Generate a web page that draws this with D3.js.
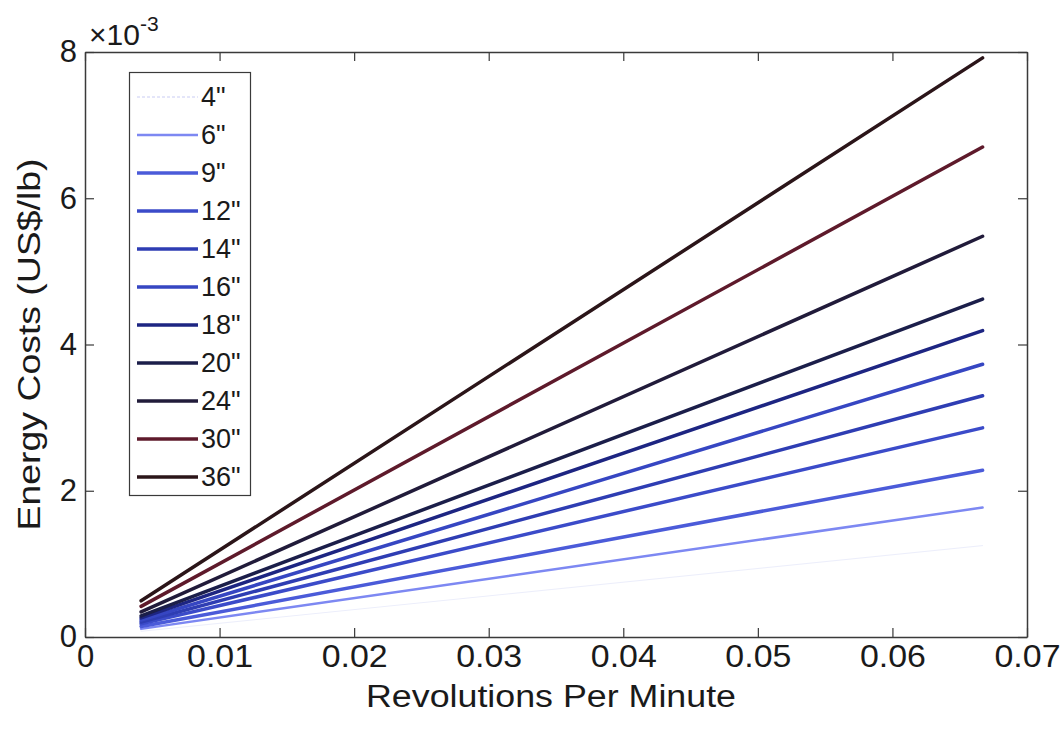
<!DOCTYPE html>
<html>
<head>
<meta charset="utf-8">
<script src="https://cdn.jsdelivr.net/npm/d3@7"></script>
<style>
  html, body { margin: 0; padding: 0; background: #fff; }
  svg { display: block; font-family: "Liberation Sans", Arial, sans-serif; }
</style>
</head>
<body>
<svg id="chart" width="1062" height="734"></svg>
<script>
// Pipe diameters and energy cost (x10^-3 US$/lb) at the lowest and highest rotation speeds
const diameters = ['4"', '6"', '9"', '12"', '14"', '16"', '18"', '20"', '24"', '30"', '36"'];
const rpmRange = [0.00417, 0.0667];
const costAtMin = [0.078, 0.111, 0.143, 0.179, 0.206, 0.233, 0.262, 0.289, 0.343, 0.419, 0.495];
const costAtMax = [1.25, 1.77, 2.28, 2.86, 3.30, 3.73, 4.19, 4.62, 5.48, 6.70, 7.92];
const lineColors = ["#eceefb", "#7d88f2", "#4b5bd9", "#3b4bc9", "#2e3db3", "#3646c2", "#1d2582", "#1b1e4a", "#211b3a", "#5e1a2b", "#2b1519"];
const lineWidths = [1, 2.5, 3.5, 3.5, 3.5, 3.5, 3.5, 3.5, 3.5, 3.5, 3.5];
const xTicks = [0, 0.01, 0.02, 0.03, 0.04, 0.05, 0.06, 0.07];
const yTicks = [0, 2, 4, 6, 8];

const svg = d3.select("#chart");
const m = { left: 85, right: 1027, top: 52, bottom: 637 };

const x = d3.scaleLinear().domain([0, 0.07]).range([m.left, m.right]);
const y = d3.scaleLinear().domain([0, 8]).range([m.bottom, m.top]);

const axisColor = "#3a3a3a";
const textColor = "#1a1a1a";
const tickLen = 9;

// Data lines
const line = d3.line().x(d => x(d[0])).y(d => y(d[1]));
const series = diameters.map((name, i) => ({
  name,
  color: lineColors[i],
  width: lineWidths[i],
  pts: [[rpmRange[0], costAtMin[i]], [rpmRange[1], costAtMax[i]]]
}));

svg.append("g").selectAll("path").data(series).join("path")
  .attr("d", d => line(d.pts))
  .attr("fill", "none")
  .attr("stroke", d => d.color)
  .attr("stroke-width", d => d.width)
  .attr("stroke-linecap", "round");

// Axes with inward ticks on all four sides
const gx = svg.append("g").attr("transform", `translate(0,${m.bottom})`)
  .call(d3.axisBottom(x).tickValues(xTicks).tickSizeInner(-tickLen).tickSizeOuter(0).tickPadding(8)
    .tickFormat(d => d === 0 ? "0" : d3.format(".2f")(d)));
const gxTop = svg.append("g").attr("transform", `translate(0,${m.top})`)
  .call(d3.axisTop(x).tickValues(xTicks).tickSizeInner(-tickLen).tickSizeOuter(0).tickFormat(""));
const gy = svg.append("g").attr("transform", `translate(${m.left},0)`)
  .call(d3.axisLeft(y).tickValues(yTicks).tickSizeInner(-tickLen).tickSizeOuter(0).tickPadding(8)
    .tickFormat(d3.format("d")));
const gyRight = svg.append("g").attr("transform", `translate(${m.right},0)`)
  .call(d3.axisRight(y).tickValues(yTicks).tickSizeInner(-tickLen).tickSizeOuter(0).tickFormat(""));

[gx, gxTop, gy, gyRight].forEach(g => {
  g.select(".domain").attr("stroke", axisColor).attr("stroke-width", 1.5);
  g.selectAll(".tick line").attr("stroke", axisColor).attr("stroke-width", 1.2);
  g.selectAll(".tick text").attr("fill", textColor).style("font-size", "31px")
    .style("font-family", '"Liberation Sans", Arial, sans-serif');
});
gx.selectAll(".tick text").attr("textLength", d => d === 0 ? null : 66).attr("lengthAdjust", "spacingAndGlyphs");

// Exponent label
const expo = svg.append("text").attr("x", 89).attr("y", 45).attr("fill", textColor)
  .style("font-size", "30px");
expo.append("tspan").text("×10");
expo.append("tspan").attr("dy", -14).style("font-size", "21px").text("-3");

// Axis titles
svg.append("text").attr("x", 551).attr("y", 707)
  .attr("text-anchor", "middle").attr("fill", textColor).style("font-size", "31px")
  .attr("textLength", 370).attr("lengthAdjust", "spacingAndGlyphs")
  .text("Revolutions Per Minute");
svg.append("text").attr("transform", `translate(40,${(m.top + m.bottom) / 2}) rotate(-90)`)
  .attr("text-anchor", "middle").attr("fill", textColor).style("font-size", "32px")
  .attr("textLength", 372).attr("lengthAdjust", "spacingAndGlyphs")
  .text("Energy Costs (US$/lb)");

// Legend
const lg = svg.append("g");
lg.append("rect").attr("x", 129.5).attr("y", 72.5).attr("width", 121).attr("height", 423)
  .attr("fill", "#fff").attr("stroke", axisColor).attr("stroke-width", 1.2);
const rowY = d3.scaleLinear().domain([0, diameters.length - 1]).range([97, 477]);
const rows = lg.selectAll("g.row").data(series).join("g")
  .attr("transform", (d, i) => `translate(0,${rowY(i)})`);
rows.append("line").attr("x1", 137).attr("x2", 198)
  .attr("stroke", d => d.color === lineColors[0] ? "#c9ccf3" : d.color)
  .attr("stroke-dasharray", (d, i) => i === 0 ? "3,2" : null)
  .attr("stroke-width", d => d.width);
rows.append("text").attr("x", 201).attr("y", 9).attr("fill", textColor)
  .style("font-size", "27px").text(d => d.name);
</script>
</body>
</html>
